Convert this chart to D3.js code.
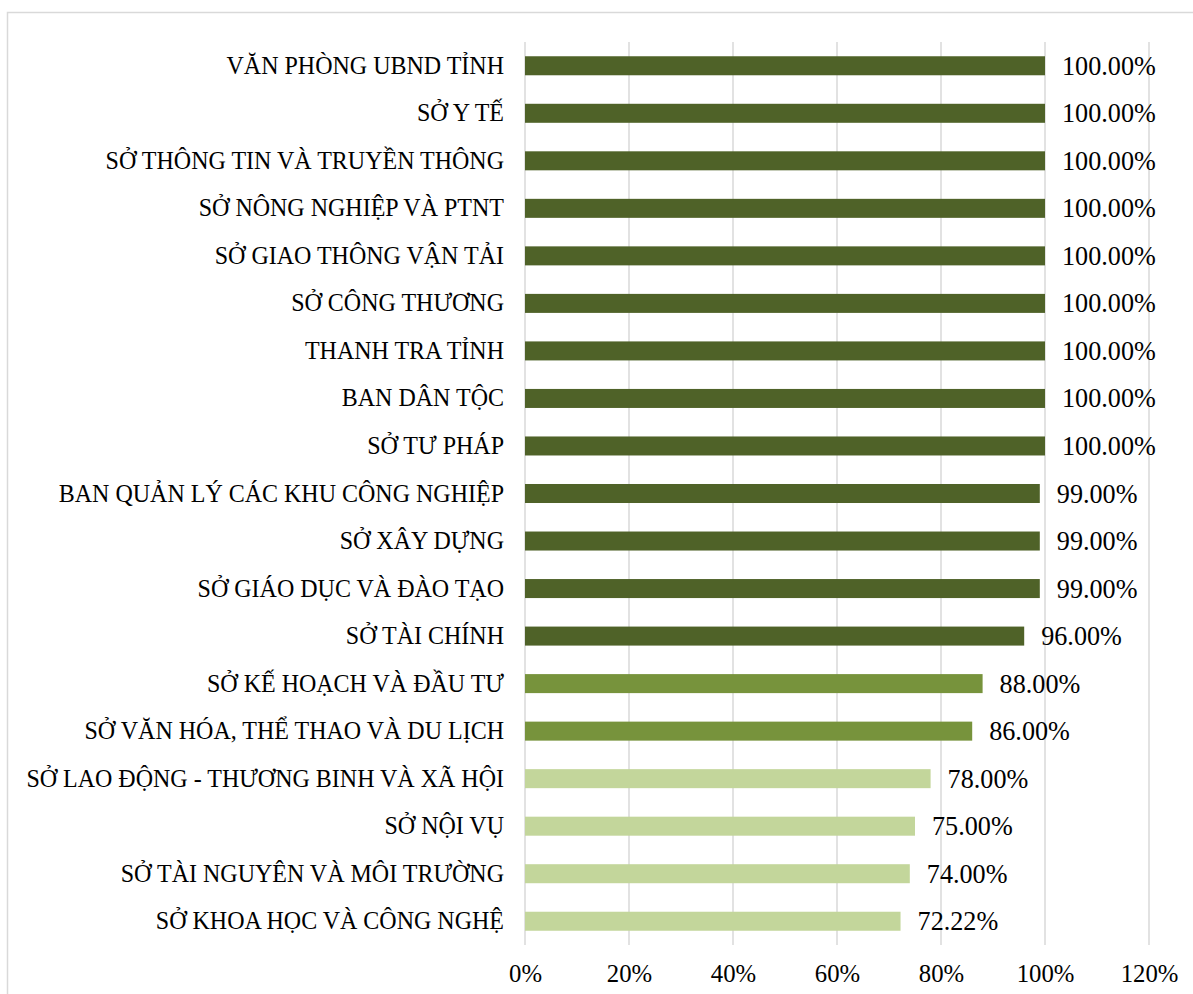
<!DOCTYPE html>
<html>
<head>
<meta charset="utf-8">
<script src="https://cdn.jsdelivr.net/npm/d3@7"></script>
<style>
  html, body { margin: 0; padding: 0; background: #fff; }
  svg { display: block; }
  text { font-family: "Liberation Serif", "Times New Roman", serif; fill: #000; }
</style>
</head>
<body>
<svg id="chart" width="1193" height="994"></svg>
<script>
// Units, top to bottom
const categories = [
  "VĂN PHÒNG UBND TỈNH",
  "SỞ Y TẾ",
  "SỞ THÔNG TIN VÀ TRUYỀN THÔNG",
  "SỞ NÔNG NGHIỆP VÀ PTNT",
  "SỞ GIAO THÔNG VẬN TẢI",
  "SỞ CÔNG THƯƠNG",
  "THANH TRA TỈNH",
  "BAN DÂN TỘC",
  "SỞ TƯ PHÁP",
  "BAN QUẢN LÝ CÁC KHU CÔNG NGHIỆP",
  "SỞ XÂY DỰNG",
  "SỞ GIÁO DỤC VÀ ĐÀO TẠO",
  "SỞ TÀI CHÍNH",
  "SỞ KẾ HOẠCH VÀ ĐẦU TƯ",
  "SỞ VĂN HÓA, THỂ THAO VÀ DU LỊCH",
  "SỞ LAO ĐỘNG - THƯƠNG BINH VÀ XÃ HỘI",
  "SỞ NỘI VỤ",
  "SỞ TÀI NGUYÊN VÀ MÔI TRƯỜNG",
  "SỞ KHOA HỌC VÀ CÔNG NGHỆ"
];
// Completion rate (%)
const values = [100, 100, 100, 100, 100, 100, 100, 100, 100, 99, 99, 99, 96, 88, 86, 78, 75, 74, 72.22];
// Rating group per unit: 0 = high, 1 = medium, 2 = low
const groups = [0, 0, 0, 0, 0, 0, 0, 0, 0, 0, 0, 0, 0, 1, 1, 2, 2, 2, 2];
const groupColors = ["#4f6228", "#77933c", "#c3d69b"];
const xTicks = [0, 20, 40, 60, 80, 100, 120];

const svg = d3.select("#chart");
const W = 1193, H = 994;
const margin = { left: 525, right: 44, top: 42, bottom: 49 };

// Outer chart frame
svg.append("rect")
  .attr("x", 7.5).attr("y", 12.5)
  .attr("width", W + 20).attr("height", H + 20)
  .attr("fill", "#fff")
  .attr("stroke", "#d9d9d9").attr("stroke-width", 1.5);

const x = d3.scaleLinear().domain([0, 120]).range([margin.left, W - margin.right]);
const y = d3.scaleBand().domain(categories)
  .range([margin.top, H - margin.bottom])
  .paddingInner(0.6).paddingOuter(0.3);

// Vertical gridlines
svg.append("g").selectAll("line").data(xTicks).join("line")
  .attr("x1", d => x(d)).attr("x2", d => x(d))
  .attr("y1", margin.top).attr("y2", H - margin.bottom)
  .attr("stroke", "#d9d9d9").attr("stroke-width", 1.5);

// Bars
svg.append("g").selectAll("rect").data(categories).join("rect")
  .attr("x", x(0))
  .attr("y", d => y(d))
  .attr("width", (d, i) => x(values[i]) - x(0))
  .attr("height", y.bandwidth())
  .attr("fill", (d, i) => groupColors[groups[i]]);

// Category labels
svg.append("g").selectAll("text").data(categories).join("text")
  .attr("transform", d => `translate(${x(0) - 21},${y(d) + y.bandwidth() / 2 + 8}) scale(0.96,1)`)
  .attr("text-anchor", "end")
  .style("font-size", "25px")
  .text(d => d);

// Value labels
svg.append("g").selectAll("text").data(categories).join("text")
  .attr("transform", (d, i) => `translate(${x(values[i]) + 17},${y(d) + y.bandwidth() / 2 + 9}) scale(0.97,1)`)
  .style("font-size", "27px")
  .text((d, i) => values[i].toFixed(2) + "%");

// X-axis tick labels
const xAxis = d3.axisBottom(x).tickValues(xTicks).tickSize(0).tickPadding(0)
  .tickFormat(d => d + "%");
const gx = svg.append("g").attr("transform", `translate(0,${H - margin.bottom})`).call(xAxis);
gx.select(".domain").remove();
gx.selectAll("text")
  .attr("y", 0).attr("dy", null)
  .attr("transform", "translate(0,37) scale(0.99,1)")
  .style("font-size", "25px")
  .style("font-family", "'Liberation Serif', 'Times New Roman', serif")
  .attr("fill", "#000");
</script>
</body>
</html>
